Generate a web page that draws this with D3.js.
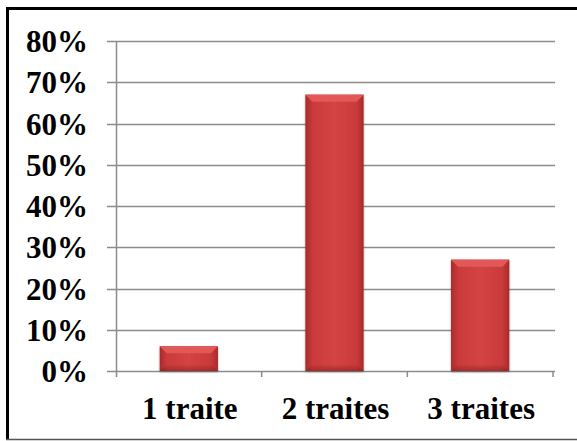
<!DOCTYPE html>
<html>
<head>
<meta charset="utf-8">
<script src="https://cdn.jsdelivr.net/npm/d3@7"></script>
<style>
  body { margin: 0; background: #fff; }
  svg text { font-family: "Liberation Serif", "Times New Roman", serif; font-weight: bold; fill: #000; }
</style>
</head>
<body>
<div id="chart"></div>
<script>
// data
var categories = ["1 traite", "2 traites", "3 traites"];
var values = [0.06, 0.67, 0.27];
var yTicks = [0, 0.1, 0.2, 0.3, 0.4, 0.5, 0.6, 0.7, 0.8];

var w = 577, h = 441;
var plotLeft = 116, plotRight = 553, plotTop = 41, plotBottom = 371;

var svg = d3.select("#chart").append("svg")
  .attr("width", w)
  .attr("height", h);

// frame
svg.append("rect").attr("x", 0).attr("y", 0).attr("width", w).attr("height", h).attr("fill", "#fff");
svg.append("line").attr("x1", 7.5).attr("x2", w).attr("y1", 8.5).attr("y2", 8.5)
  .attr("stroke", "#000").attr("stroke-width", 3);
svg.append("line").attr("x1", 7.5).attr("x2", 7.5).attr("y1", 7).attr("y2", 440)
  .attr("stroke", "#000").attr("stroke-width", 3);
svg.append("line").attr("x1", 6).attr("x2", w).attr("y1", 439.5).attr("y2", 439.5)
  .attr("stroke", "#555").attr("stroke-width", 1.5);

var xScale = d3.scaleBand().domain(categories).range([plotLeft, plotRight]).paddingInner(0.6).paddingOuter(0.3);
var xCat = d3.scaleBand().domain(categories).range([plotLeft, plotRight]);
var yScale = d3.scaleLinear().domain([0, 0.8]).range([plotBottom, plotTop]);

// gridlines
svg.append("g").selectAll("line").data(yTicks).enter().append("line")
  .attr("x1", plotLeft - 9).attr("x2", plotRight + 2)
  .attr("y1", function(d) { return Math.round(yScale(d)) + 0.5; })
  .attr("y2", function(d) { return Math.round(yScale(d)) + 0.5; })
  .attr("stroke", "#8c8c8c").attr("stroke-width", 1.5);

// y axis line
svg.append("line").attr("x1", plotLeft + 0.5).attr("x2", plotLeft + 0.5)
  .attr("y1", yScale(0.8)).attr("y2", yScale(0) + 6)
  .attr("stroke", "#8c8c8c").attr("stroke-width", 1.5);

// category ticks
var catEdges = categories.map(function(c) { return xCat(c) + xCat.bandwidth(); });
svg.append("g").selectAll("line").data(catEdges).enter().append("line")
  .attr("x1", function(d) { return d; }).attr("x2", function(d) { return d; })
  .attr("y1", yScale(0)).attr("y2", yScale(0) + 6)
  .attr("stroke", "#8c8c8c").attr("stroke-width", 1.5);

// y labels
svg.append("g").selectAll("text").data(yTicks).enter().append("text")
  .attr("x", 88)
  .attr("y", function(d) { return yScale(d) + 11; })
  .attr("text-anchor", "end")
  .style("font-size", "31px")
  .text(function(d) { return d3.format(".0%")(d); });

// x labels
svg.append("g").selectAll("text").data(categories).enter().append("text")
  .attr("x", function(d) { return xCat(d) + xCat.bandwidth() / 2 + 1; })
  .attr("y", 419)
  .attr("text-anchor", "middle")
  .style("font-size", "31px")
  .text(function(d) { return d; });

// gradients
var defs = svg.append("defs");
var g1 = defs.append("linearGradient").attr("id", "barGrad").attr("x1", 0).attr("x2", 1).attr("y1", 0).attr("y2", 0);
g1.append("stop").attr("offset", "0%").attr("stop-color", "#a82a2a");
g1.append("stop").attr("offset", "12%").attr("stop-color", "#c93a3a");
g1.append("stop").attr("offset", "50%").attr("stop-color", "#d44444");
g1.append("stop").attr("offset", "88%").attr("stop-color", "#c93a3a");
g1.append("stop").attr("offset", "100%").attr("stop-color", "#a82a2a");

var g2 = defs.append("linearGradient").attr("id", "bottomGrad").attr("x1", 0).attr("x2", 0).attr("y1", 0).attr("y2", 1);
g2.append("stop").attr("offset", "0%").attr("stop-color", "#8a1f1f").attr("stop-opacity", 0);
g2.append("stop").attr("offset", "100%").attr("stop-color", "#8a1f1f").attr("stop-opacity", 0.6);

var shadow = defs.append("filter").attr("id", "shadow").attr("x", "-20%").attr("y", "-20%").attr("width", "140%").attr("height", "140%");
shadow.append("feDropShadow").attr("dx", 0).attr("dy", 1).attr("stdDeviation", 1.2).attr("flood-color", "#000").attr("flood-opacity", 0.35);

var bars = svg.append("g").selectAll("g").data(values).enter().append("g");
var bevel = 7;

bars.append("rect")
  .attr("x", function(d, i) { return xScale(categories[i]); })
  .attr("y", function(d) { return yScale(d); })
  .attr("width", xScale.bandwidth())
  .attr("height", function(d) { return yScale(0) - yScale(d); })
  .attr("fill", "url(#barGrad)")
  .attr("filter", "url(#shadow)");

// top bevel
bars.append("path")
  .attr("d", function(d, i) {
    var x0 = xScale(categories[i]), x1 = x0 + xScale.bandwidth(), y0 = yScale(d);
    var b = Math.min(bevel, (yScale(0) - y0) / 2);
    return "M" + x0 + "," + y0 + "L" + x1 + "," + y0 + "L" + (x1 - b) + "," + (y0 + b) + "L" + (x0 + b) + "," + (y0 + b) + "Z";
  })
  .attr("fill", "#e25858");

// bottom bevel
bars.append("path")
  .attr("d", function(d, i) {
    var x0 = xScale(categories[i]), x1 = x0 + xScale.bandwidth(), y1 = yScale(0), y0 = yScale(d);
    var b = Math.min(bevel, (y1 - y0) / 2);
    return "M" + x0 + "," + y1 + "L" + x1 + "," + y1 + "L" + (x1 - b) + "," + (y1 - b) + "L" + (x0 + b) + "," + (y1 - b) + "Z";
  })
  .attr("fill", "url(#bottomGrad)");
</script>
</body>
</html>
